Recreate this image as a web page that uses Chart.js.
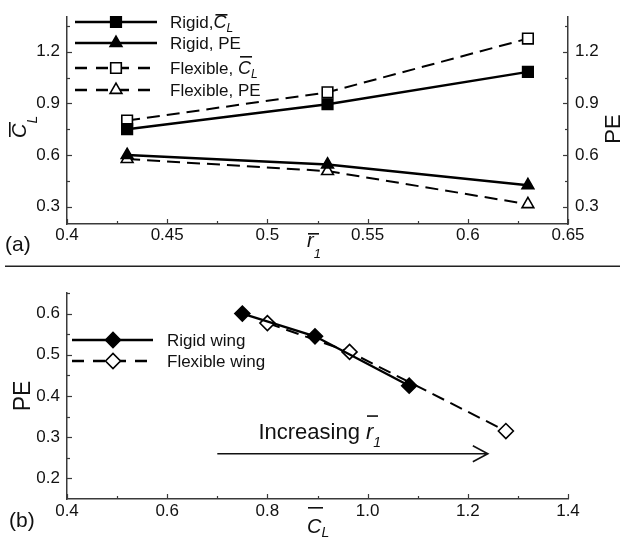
<!DOCTYPE html>
<html><head><meta charset="utf-8">
<script src="https://cdn.jsdelivr.net/npm/chart.js@4"></script>
<style>html,body{margin:0;padding:0;background:#fff;overflow:hidden}
canvas{position:absolute;left:0;top:0}</style></head>
<body>
<canvas id="a" width="622" height="541"></canvas>
<canvas id="b" width="622" height="541"></canvas>
<script>
// ---- data ----
const rValues   = [0.43, 0.53, 0.63];
const rigidCL   = [0.750, 0.895, 1.083];
const rigidPE   = [0.600, 0.545, 0.425];
const flexCL    = [0.800, 0.964, 1.276];
const flexPE    = [0.577, 0.507, 0.315];
const topXTicks = [0.4, 0.45, 0.5, 0.55, 0.6, 0.65];
const topXMinor = [0.425, 0.475, 0.525, 0.575, 0.625];
const topYTicks = [0.3, 0.6, 0.9, 1.2];
const topYMinor = [0.45, 0.75, 1.05, 1.35];
const botXTicks = [0.4, 0.6, 0.8, 1.0, 1.2, 1.4];
const botXMinor = [0.5, 0.7, 0.9, 1.1, 1.3];
const botYTicks = [0.2, 0.3, 0.4, 0.5, 0.6];
const botYMinor = [0.25, 0.35, 0.45, 0.55, 0.65];
const arrowFrom = [0.70, 0.26];
const arrowTo   = [1.24, 0.26];
const arrowText = [0.782, 0.295];

const FONT = '"Liberation Sans", Arial, Helvetica, sans-serif';
const INK = '#111';
const AXIS = '#3a3a3a';

function pts(xs, ys){ return xs.map((x,i)=>({x:x, y:ys[i]})); }

function rich(ctx, x, y, parts){
  let cx = x;
  ctx.textBaseline = 'alphabetic'; ctx.textAlign = 'left';
  for (const p of parts){
    ctx.font = p.f + ' ' + FONT;
    const w = ctx.measureText(p.t).width;
    const px = cx + (p.dx||0), py = y + (p.dy||0);
    ctx.fillText(p.t, px, py);
    if (p.ov !== undefined) ctx.fillRect(px + (p.ox||0), y + p.ov, p.ow || w, 1.6);
    cx = px + w;
  }
}

const tickMarks = {
  id: 'tickMarks',
  afterDraw(chart, args, opts){
    const ctx = chart.ctx;
    ctx.save(); ctx.strokeStyle = AXIS; ctx.lineWidth = 1.2; ctx.setLineDash([]);
    for (const id in opts.scales){
      const sc = chart.scales[id]; const cfg = opts.scales[id];
      const draw = (vals, len) => {
        for (const v of vals){
          const p = Math.round(sc.getPixelForValue(v)) + 0.5;
          ctx.beginPath();
          if (sc.isHorizontal()){ ctx.moveTo(p, sc.top); ctx.lineTo(p, sc.top - len); }
          else if (sc.position === 'left'){ ctx.moveTo(sc.right, p); ctx.lineTo(sc.right + len, p); }
          else { ctx.moveTo(sc.left, p); ctx.lineTo(sc.left - len, p); }
          ctx.stroke();
        }
      };
      draw(cfg.major, 5); draw(cfg.minor, 3);
    }
    ctx.restore();
  }
};

function legendDraw(ctx, chart, rows){
  ctx.save();
  for (const r of rows){
    const ds = chart.data.datasets[r.ds];
    ctx.strokeStyle = '#000'; ctx.lineWidth = 2.6;
    ctx.setLineDash(ds.borderDash && ds.borderDash.length ? [12, 9] : []);
    ctx.beginPath(); ctx.moveTo(r.x0, r.y); ctx.lineTo(r.x1, r.y); ctx.stroke();
    ctx.setLineDash([]);
    ctx.fillStyle = ds.pointBackgroundColor; ctx.strokeStyle = '#000'; ctx.lineWidth = ds.pointBorderWidth;
    Chart.helpers.drawPoint(ctx, {pointStyle: ds.pointStyle, radius: ds.pointRadius, rotation: 0, borderWidth: ds.pointBorderWidth}, r.xm, r.y);
    ctx.fillStyle = INK;
    rich(ctx, r.tx, r.y + 6, r.parts);
  }
  ctx.restore();
}

const baseDs = (label, data, style, filled, dashed) => ({
  label, data, showLine: true, borderColor: '#000', borderWidth: dashed ? 2 : 2.4,
  borderDash: dashed ? [13, 7] : [],
  pointStyle: style, pointRadius: style === 'triangle' ? 6.8 : 7.5, pointHoverRadius: 7.5,
  pointBackgroundColor: filled ? '#000' : '#fff', pointBorderColor: '#000', pointBorderWidth: 1.6,
  backgroundColor: filled ? '#000' : '#fff', tension: 0
});

const tickFont = {family: FONT, size: 17};

// ---- chart (a) ----
const annotA = {
  id: 'annotA',
  afterDraw(chart){
    const ctx = chart.ctx; ctx.save(); ctx.fillStyle = INK;
    legendDraw(ctx, chart, [
      {ds:0, y:22, x0:75, x1:157, xm:116, tx:170, parts:[{t:'Rigid,', f:'17px'}, {t:'C', f:'italic 18px', ov:-14, ox:2, ow:12}, {t:'L', f:'italic 12px', dy:4}]},
      {ds:1, y:43, x0:75, x1:157, xm:116, tx:170, parts:[{t:'Rigid, PE', f:'17px'}]},
      {ds:2, y:68, x0:75, x1:157, xm:116, tx:170, parts:[{t:'Flexible, ', f:'17px'}, {t:'C', f:'italic 18px', ov:-18, ox:2, ow:12}, {t:'L', f:'italic 12px', dy:4}]},
      {ds:3, y:90, x0:75, x1:157, xm:116, tx:170, parts:[{t:'Flexible, PE', f:'17px'}]}
    ]);
    ctx.fillStyle = INK;
    // left axis title (rotated)
    ctx.save(); ctx.translate(26, 138); ctx.rotate(-Math.PI/2);
    rich(ctx, 0, 0, [{t:'C', f:'italic 20px', ov:-17, ox:1, ow:15}, {t:'L', f:'italic 14px', dy:11}]);
    ctx.restore();
    // right axis title
    ctx.save(); ctx.translate(620, 129); ctx.rotate(-Math.PI/2);
    ctx.font = '22px ' + FONT; ctx.textAlign = 'center'; ctx.textBaseline = 'alphabetic';
    ctx.fillText('PE', 0, 0); ctx.restore();
    // x axis title
    rich(ctx, 307, 247, [{t:'r', f:'italic 20px', ov:-14, ox:1, ow:11}, {t:'1', f:'italic 13px', dy:11}]);
    ctx.font = '21px ' + FONT; ctx.textAlign = 'left'; ctx.fillText('(a)', 5, 251);
    // separator
    ctx.fillStyle = '#222'; ctx.fillRect(5, 265.5, 615, 1.5);
    ctx.restore();
  }
};

new Chart(document.getElementById('a'), {
  type: 'scatter',
  data: { datasets: [
    baseDs('Rigid, CL', pts(rValues, rigidCL), 'rect', true, false),
    baseDs('Rigid, PE', pts(rValues, rigidPE), 'triangle', true, false),
    baseDs('Flexible, CL', pts(rValues, flexCL), 'rect', false, true),
    baseDs('Flexible, PE', pts(rValues, flexPE), 'triangle', false, true)
  ]},
  options: {
    responsive: false, animation: false, devicePixelRatio: 1,
    layout: {padding: {top: 17, left: 0, right: 0, bottom: 0}},
    plugins: { legend: {display: false}, tooltip: {enabled: false},
      tickMarks: {scales: {x: {major: topXTicks, minor: topXMinor}, y: {major: topYTicks, minor: topYMinor}, y2: {major: topYTicks, minor: topYMinor}}} },
    scales: {
      x: { type: 'linear', min: 0.4, max: 0.65, position: 'bottom',
        afterBuildTicks: s => { s.ticks = topXTicks.map(v => ({value: v})); },
        afterFit: s => { s.height = 541 - 224; },
        grid: {display: false, drawTicks: false}, border: {display: true, color: AXIS, width: 1.5},
        ticks: {autoSkip: false, maxRotation: 0, padding: 1, color: INK, font: tickFont, callback: v => String(v)} },
      y: { type: 'linear', min: 0.2, max: 1.4, position: 'left',
        afterBuildTicks: s => { s.ticks = topYTicks.map(v => ({value: v})); },
        afterFit: s => { s.width = 67; },
        grid: {display: false, drawTicks: false}, border: {display: true, color: AXIS, width: 1.5},
        ticks: {autoSkip: false, padding: 7, color: INK, font: tickFont, callback: v => v.toFixed(1)} },
      y2: { type: 'linear', min: 0.2, max: 1.4, position: 'right',
        afterBuildTicks: s => { s.ticks = topYTicks.map(v => ({value: v})); },
        afterFit: s => { s.width = 54; },
        grid: {display: false, drawTicks: false}, border: {display: true, color: AXIS, width: 1.5},
        ticks: {autoSkip: false, padding: 7, color: INK, font: tickFont, callback: v => v.toFixed(1)} }
    }
  },
  plugins: [tickMarks, annotA]
});

// ---- chart (b) ----
const annotB = {
  id: 'annotB',
  afterDraw(chart){
    const ctx = chart.ctx; ctx.save(); ctx.fillStyle = INK;
    legendDraw(ctx, chart, [
      {ds:0, y:340, x0:72, x1:153, xm:113, tx:167, parts:[{t:'Rigid wing', f:'17px'}]},
      {ds:1, y:361, x0:72, x1:153, xm:113, tx:167, parts:[{t:'Flexible wing', f:'17px'}]}
    ]);
    ctx.fillStyle = INK;
    const xs = chart.scales.x, ys = chart.scales.y;
    // arrow
    const ax0 = xs.getPixelForValue(arrowFrom[0]), ay = ys.getPixelForValue(arrowFrom[1]);
    const ax1 = xs.getPixelForValue(arrowTo[0]);
    ctx.strokeStyle = '#111'; ctx.lineWidth = 1.6; ctx.setLineDash([]);
    ctx.beginPath(); ctx.moveTo(ax0, ay); ctx.lineTo(ax1, ay);
    ctx.moveTo(ax1 - 15, ay - 8); ctx.lineTo(ax1, ay); ctx.lineTo(ax1 - 15, ay + 8); ctx.stroke();
    rich(ctx, xs.getPixelForValue(arrowText[0]), ys.getPixelForValue(arrowText[1]),
      [{t:'Increasing ', f:'22px'}, {t:'r', f:'italic 22px', ov:-24, ox:1, ow:11}, {t:'1', f:'italic 14px', dy:8}]);
    // y title
    ctx.save(); ctx.translate(30, 396); ctx.rotate(-Math.PI/2);
    ctx.font = '23px ' + FONT; ctx.textAlign = 'center'; ctx.textBaseline = 'alphabetic';
    ctx.fillText('PE', 0, 0); ctx.restore();
    // x title
    rich(ctx, 307, 533, [{t:'C', f:'italic 20px', ov:-26, ox:1, ow:15}, {t:'L', f:'italic 14px', dy:4}]);
    ctx.font = '21px ' + FONT; ctx.textAlign = 'left'; ctx.fillText('(b)', 9, 527);
    ctx.restore();
  }
};

new Chart(document.getElementById('b'), {
  type: 'scatter',
  data: { datasets: [
    Object.assign(baseDs('Rigid wing', pts(rigidCL, rigidPE), 'rectRot', true, false), {pointRadius: 7.5}),
    Object.assign(baseDs('Flexible wing', pts(flexCL, flexPE), 'rectRot', false, true), {pointRadius: 7.5})
  ]},
  options: {
    responsive: false, animation: false, devicePixelRatio: 1,
    layout: {padding: {top: 293, left: 0, right: 54, bottom: 0}},
    plugins: { legend: {display: false}, tooltip: {enabled: false},
      tickMarks: {scales: {x: {major: botXTicks, minor: botXMinor}, y: {major: botYTicks, minor: botYMinor}}} },
    scales: {
      x: { type: 'linear', min: 0.4, max: 1.4, position: 'bottom',
        afterBuildTicks: s => { s.ticks = botXTicks.map(v => ({value: v})); },
        afterFit: s => { s.height = 541 - 499; },
        grid: {display: false, drawTicks: false}, border: {display: true, color: AXIS, width: 1.5},
        ticks: {autoSkip: false, maxRotation: 0, padding: 2, color: INK, font: tickFont, callback: v => v.toFixed(1)} },
      y: { type: 'linear', min: 0.15, max: 0.65, position: 'left',
        afterBuildTicks: s => { s.ticks = botYTicks.map(v => ({value: v})); },
        afterFit: s => { s.width = 67; },
        grid: {display: false, drawTicks: false}, border: {display: true, color: AXIS, width: 1.5},
        ticks: {autoSkip: false, padding: 7, color: INK, font: tickFont, callback: v => v.toFixed(1)} }
    }
  },
  plugins: [tickMarks, annotB]
});
</script>
</body></html>
